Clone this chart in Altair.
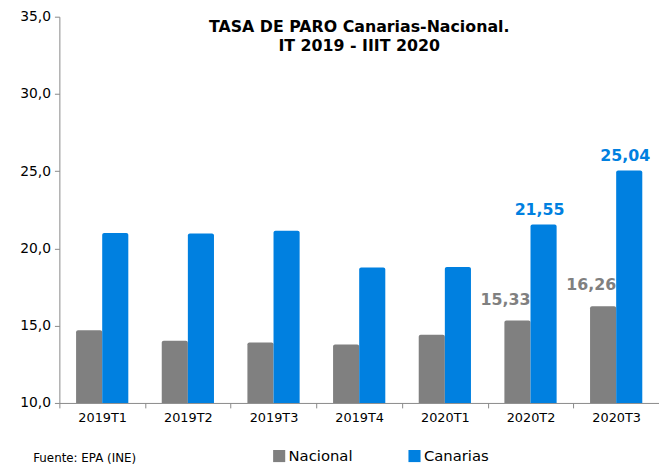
import altair as alt
import pandas as pd

periods = ["2019T1", "2019T2", "2019T3", "2019T4", "2020T1", "2020T2", "2020T3"]
nacional = [14.70, 14.02, 13.92, 13.78, 14.41, 15.33, 16.26]
canarias = [21.00, 20.96, 21.15, 18.77, 18.80, 21.55, 25.04]
nacional_labels = ["", "", "", "", "", "15,33", "16,26"]
canarias_labels = ["", "", "", "", "", "21,55", "25,04"]
series = ["Nacional", "Canarias"]
colors = ["#808080", "#0080e0"]
y_ticks = [10, 15, 20, 25, 30, 35]

rows = []
for p, n, c, nl, cl in zip(periods, nacional, canarias, nacional_labels, canarias_labels):
    rows.append({"periodo": p, "serie": "Nacional", "valor": n, "etiqueta": nl})
    rows.append({"periodo": p, "serie": "Canarias", "valor": c, "etiqueta": cl})
df = pd.DataFrame(rows)

FONT = "DejaVu Sans"

x_enc = alt.X(
    "periodo:N", sort=periods,
    scale=alt.Scale(paddingInner=0, paddingOuter=0),
    axis=alt.Axis(
        title="Fuente: EPA (INE)", titleX=-27, titleY=59, titleAlign="left",
        titleBaseline="alphabetic", titleFontSize=12, titleFontWeight="normal",
        titleColor="#000", titleFont=FONT,
        labelAngle=0, labelFontSize=13, labelColor="#000", labelFont=FONT,
        labelPadding=4, tickBand="extent", tickSize=5, tickColor="#888",
        domainColor="#888",
    ),
)
xo_enc = alt.XOffset("serie:N", sort=series, scale=alt.Scale(paddingInner=0, paddingOuter=0.64))
y_enc = alt.Y(
    "valor:Q",
    scale=alt.Scale(domain=[10, 35], nice=False, zero=False),
    axis=alt.Axis(
        values=y_ticks, title=None, grid=False,
        labelExpr="replace(format(datum.value, '.1f'), '.', ',')",
        labelFontSize=14, labelColor="#000", labelFont=FONT, labelPadding=4,
        tickSize=5, tickColor="#888", domainColor="#888",
    ),
)
color_enc = alt.Color(
    "serie:N", sort=series,
    scale=alt.Scale(domain=series, range=colors),
    legend=alt.Legend(
        title=None, orient="none", legendX=215, legendY=437, direction="horizontal",
        symbolType="square", symbolSize=150, symbolStrokeWidth=0, symbolOffset=0,
        labelFontSize=15, labelFont=FONT, labelColor="#000", labelOffset=2,
        columnPadding=55,
    ),
)

bars = alt.Chart(df).mark_bar(cornerRadiusTopLeft=2, cornerRadiusTopRight=2).encode(
    x=x_enc, xOffset=xo_enc, y=y_enc, y2=alt.datum(10), color=color_enc
)


def label_layer(serie, dx, dy):
    return alt.Chart(df).transform_filter(alt.datum.serie == serie).mark_text(
        fontSize=16, fontWeight="bold", font=FONT, dx=dx, dy=dy, baseline="middle"
    ).encode(
        x=alt.X("periodo:N", sort=periods),
        xOffset=alt.XOffset("serie:N", sort=series),
        y=alt.Y("valor:Q"),
        text="etiqueta:N",
        color=alt.Color("serie:N", sort=series, legend=None),
    )


labels_nac = label_layer("Nacional", -12, -21)
labels_can = label_layer("Canarias", -4, -15)

chart = alt.layer(bars, labels_nac, labels_can).properties(
    width=607,
    height=391,
    autosize=alt.AutoSizeParams(type="none"),
    padding={"left": 52, "top": 6, "right": 0, "bottom": 60},
    title=alt.Title(
        ["TASA DE PARO Canarias-Nacional.", "IT 2019 - IIIT 2020"],
        fontSize=16, fontWeight="bold", font=FONT, color="#000",
        anchor="middle", frame="group", baseline="top", offset=0, dy=45,
        lineHeight=20,
    ),
).configure_view(stroke=None)

chart.save("out.html", embed_options={"renderer": "svg", "actions": False})
